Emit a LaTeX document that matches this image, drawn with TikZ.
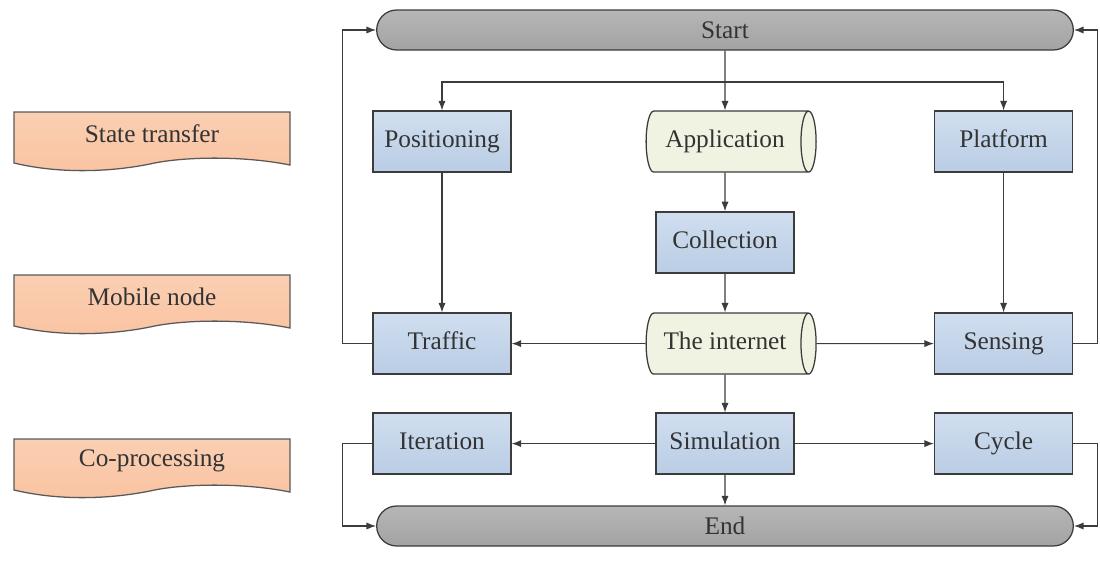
\documentclass[tikz,border=0pt]{standalone}
\usepackage{fontspec}
\setmainfont{Liberation Serif}
\usetikzlibrary{positioning,shapes.geometric,shapes.misc,arrows.meta}
\definecolor{linegray}{HTML}{3C3C3C}
\definecolor{boxtop}{HTML}{D0DEEF}
\definecolor{boxbot}{HTML}{BACDE5}
\definecolor{cyltop}{HTML}{F1F3E2}
\definecolor{captop}{HTML}{B6B6B6}
\definecolor{capbot}{HTML}{A3A3A3}
\definecolor{peachtop}{HTML}{FBCFB2}
\definecolor{peachbot}{HTML}{F9C3A2}
\definecolor{txt}{HTML}{333333}

\begin{document}
\begin{tikzpicture}[
  font=\fontsize{18}{20}\selectfont, text=txt,
  box/.style = {draw=linegray, line width=0.9pt, top color=boxtop, bottom color=boxbot,
                minimum width=3.45cm, minimum height=1.525cm,
                text height=1.05em, text depth=0.24em},
  drum/.style = {cylinder, draw=linegray, line width=0.9pt, fill=cyltop, shape aspect=0.55,
                 minimum height=4.25cm, minimum width=1.525cm,
                 text height=1.05em, text depth=0.24em},
  terminal/.style = {rounded rectangle, draw=linegray, line width=0.9pt, top color=captop,
                bottom color=capbot, minimum width=17.65cm, minimum height=1cm},
  link/.style = {draw=linegray, line width=0.8pt, -{Latex[length=2.4mm,width=1.8mm]}}
]
\useasboundingbox (0,0) rectangle (27.5,-14.2);

% terminals
\node[terminal] (start) at (18.125,-0.75) {Start};
\node[terminal] (end) at (18.125,-13.15) {End};

% middle column
\node[drum] (app) at (18.125,-3.54) {Application};
\node[box] (coll) at (18.125,-6.06) {Collection};
\node[drum] (net) at (18.125,-8.59) {The internet};
\node[box] (sim) at (18.125,-11.09) {Simulation};

% side columns
\node[box] (pos) at (11.05,-3.54) {Positioning};
\node[box] (traf) at (11.05,-8.59) {Traffic};
\node[box] (iter) at (11.05,-11.09) {Iteration};
\node[box] (plat) at (25.09,-3.54) {Platform};
\node[box] (sens) at (25.09,-8.59) {Sensing};
\node[box] (cyc) at (25.09,-11.09) {Cycle};

% banners on the left
\foreach \t/\txt [count=\i] in {-2.8/State transfer, -6.875/Mobile node, -10.975/Co-processing}{
  \draw[draw=black!65, line width=0.9pt, top color=peachtop, bottom color=peachbot]
    (0.35,\t) -- (7.25,\t) -- (7.25,\t-1.325)
    .. controls (6.0,\t-1.075) and (4.5,\t-1.125) .. (3.75,\t-1.3)
    .. controls (2.75,\t-1.5) and (1.5,\t-1.55) .. (0.35,\t-1.275) -- cycle;
  \node (band\i) at (3.8,\t-0.55) {\txt};
}

\coordinate (fork) at (18.125,-2.05);

\draw[link] (start) -- (app);
\draw[link] (fork) -| (pos);
\draw[link] (fork) -| (plat);
\draw[link] (app) -- (coll);
\draw[link] (coll) -- (net);
\draw[link] (net) -- (sim);
\draw[link] (sim) -- (end);
\draw[link] (pos) -- (traf);
\draw[link] (plat) -- (sens);
\draw[link] (net) -- (traf);
\draw[link] (net) -- (sens);
\draw[link] (sim) -- (iter);
\draw[link] (sim) -- (cyc);

% loops back to the terminals
\draw[link] (traf.west) -- ++(-0.75,0) |- (start.west);
\draw[link] (iter.west) -- ++(-0.75,0) |- (end.west);
\draw[link] (sens.east) -- ++(0.6,0) |- (start.east);
\draw[link] (cyc.east) -- ++(0.6,0) |- (end.east);
\end{tikzpicture}
\end{document}
